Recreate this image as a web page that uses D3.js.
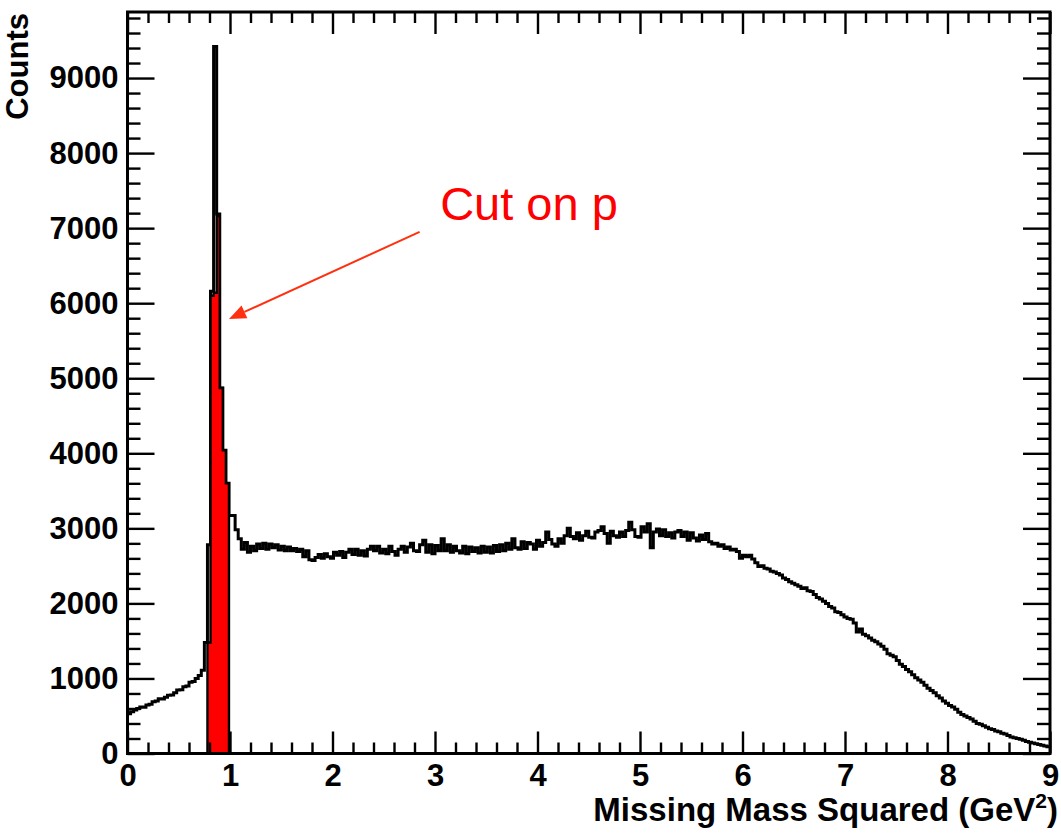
<!DOCTYPE html>
<html lang="en">
  <head>
    <meta charset="UTF-8" />
    <title>Missing Mass Squared</title>
    <style>
      html,
      body {
        margin: 0;
        background: #fff;
      }
      svg {
        display: block;
        font-family: "Liberation Sans", Arial, Helvetica, sans-serif;
      }
      .tick text {
        font-weight: bold;
        font-size: 31px;
        fill: #000;
      }
    </style>
  </head>
  <body>
    <div id="chart"></div>

    <script src="https://cdnjs.cloudflare.com/ajax/libs/d3/7.8.5/d3.min.js"></script>
    <script>
      // histogram: 300 bins of 0.03 GeV^2 from 0 to 9
      const xMin = 0;
      const binWidth = 0.03;
      const counts = [
        530, 555, 580, 600, 620, 615, 645, 655, 690, 700,
        730, 725, 750, 775, 780, 810, 845, 850, 890, 900,
        950, 960, 1000, 1040, 1110, 1480, 2780, 6160, 9420, 7190,
        4870, 4040, 3600, 3170, 3170, 2980, 2860, 2720, 2810, 2680,
        2760, 2700, 2790, 2730, 2800, 2720, 2790, 2740, 2780, 2710,
        2760, 2700, 2750, 2700, 2730, 2690, 2720, 2620, 2700, 2580,
        2570, 2610, 2650, 2600, 2660, 2620, 2600, 2680, 2640, 2690,
        2610, 2680, 2720, 2650, 2720, 2640, 2700, 2630, 2720, 2760,
        2700, 2760, 2670, 2720, 2660, 2760, 2690, 2640, 2720, 2760,
        2680, 2750, 2800, 2700, 2690, 2780, 2840, 2680, 2780, 2660,
        2770, 2700, 2860, 2700, 2780, 2680, 2760, 2700, 2670, 2760,
        2660, 2750, 2690, 2740, 2670, 2760, 2680, 2750, 2670, 2770,
        2690, 2780, 2700, 2800, 2720, 2860, 2740, 2720, 2820, 2730,
        2810, 2790, 2720, 2840, 2760, 2810, 2950, 2850, 2790, 2760,
        2860, 2800, 2900, 3000, 2890, 2860, 2940, 2840, 2900, 2960,
        2880, 2870, 2950, 2970, 3020, 2930, 2800, 2960, 2900, 2880,
        2950, 2890, 2970, 3080, 2980, 2890, 2880, 3020, 2950, 3060,
        2740, 2950, 2990, 2900, 2980, 2890, 2940, 2870, 2950, 2970,
        2890, 2950, 2840, 2940, 2870, 2830, 2910, 2850, 2930, 2820,
        2790, 2800, 2760, 2780, 2730, 2750, 2710, 2720, 2690, 2600,
        2640, 2620, 2640, 2590, 2540, 2490, 2500, 2470, 2460, 2430,
        2420, 2400, 2380, 2340, 2320, 2290, 2270, 2250, 2230, 2200,
        2210, 2170, 2160, 2120, 2080, 2060, 2030, 2000, 1960, 1940,
        1890, 1880, 1850, 1820, 1800, 1790, 1740, 1620, 1660, 1590,
        1570, 1540, 1510, 1490, 1460, 1430, 1390, 1330, 1310, 1290,
        1240, 1190, 1160, 1120, 1090, 1050, 1010, 980, 950, 910,
        870, 840, 810, 770, 740, 700, 670, 640, 620, 590,
        550, 520, 500, 480, 460, 430, 400, 390, 370, 350,
        330, 320, 300, 290, 270, 260, 240, 220, 210, 200,
        190, 175, 160, 150, 140, 130, 120, 110, 100, 90,
      ];

      // events passing the cut on p (red), first bin index and counts
      const cutFirstBin = 26;
      const cutCounts = [1480, 6100, 6140, 7160, 4870, 4040, 3600];

      const xTicks = [0, 1, 2, 3, 4, 5, 6, 7, 8, 9];
      const yTicks = [0, 1000, 2000, 3000, 4000, 5000, 6000, 7000, 8000, 9000];
      const xDomain = [0, 9];
      const yDomain = [0, 9880];

      // annotation, in data units
      const label = "Cut on p";
      const labelPos = [3.05, 7115];
      const arrowFrom = [2.85, 6950];
      const arrowTo = [0.99, 5790];

      const options = {
        width: 1061,
        height: 834,
        margin: { top: 12, right: 11, bottom: 80.5, left: 127.5 },
      };

      const w = options.width,
        h = options.height,
        iw = w - options.margin.left - options.margin.right,
        ih = h - options.margin.top - options.margin.bottom;

      const x = d3.scaleLinear().domain(xDomain).range([0, iw]);
      const y = d3.scaleLinear().domain(yDomain).range([ih, 0]);

      const svg = d3
        .select("#chart")
        .append("svg")
        .attr("width", w)
        .attr("height", h);

      const g = svg
        .append("g")
        .attr(
          "transform",
          `translate(${options.margin.left},${options.margin.top})`
        );

      // step outline of the full histogram
      const steps = [];
      counts.forEach((c, i) => {
        const lo = xMin + i * binWidth;
        steps.push([lo, c], [lo + binWidth, c]);
      });

      const line = d3
        .line()
        .x((d) => x(d[0]))
        .y((d) => y(d[1]));

      g.append("path")
        .datum(steps)
        .attr("fill", "none")
        .attr("stroke", "#000")
        .attr("stroke-width", 3)
        .attr("stroke-linejoin", "miter")
        .attr("d", line);

      // cut histogram, filled red
      const cutSteps = [[xMin + cutFirstBin * binWidth, 0]];
      cutCounts.forEach((c, i) => {
        const lo = xMin + (cutFirstBin + i) * binWidth;
        cutSteps.push([lo, c], [lo + binWidth, c]);
      });
      cutSteps.push([xMin + (cutFirstBin + cutCounts.length) * binWidth, 0]);

      g.append("path")
        .datum(cutSteps)
        .attr("fill", "#ff0000")
        .attr("stroke", "#000")
        .attr("stroke-width", 2.4)
        .attr("d", line);

      // axes: major + minor ticks on all four sides, pointing inward
      const xMinor = d3.range(0, 9.001, 0.2).filter((v) => Math.abs(v - Math.round(v)) > 1e-6);
      const yMinor = d3.range(0, 9881, 200).filter((v) => v % 1000 !== 0);

      const drawAxis = (axis, transform, labels) => {
        const a = g.append("g").attr("transform", transform).call(axis);
        a.select(".domain").remove();
        a.selectAll(".tick line").attr("stroke-width", 2.4);
        if (!labels) a.selectAll(".tick text").remove();
        return a;
      };

      drawAxis(d3.axisBottom(x).tickValues(xTicks).tickSize(-22).tickPadding(10).tickFormat(d3.format("d")), `translate(0,${ih})`, true);
      drawAxis(d3.axisBottom(x).tickValues(xMinor).tickSize(-11).tickFormat(""), `translate(0,${ih})`, false);
      drawAxis(d3.axisTop(x).tickValues(xTicks).tickSize(-22), "translate(0,0)", false);
      drawAxis(d3.axisTop(x).tickValues(xMinor).tickSize(-11), "translate(0,0)", false);

      drawAxis(d3.axisLeft(y).tickValues(yTicks).tickSize(-27).tickPadding(9).tickFormat(d3.format("d")), "translate(0,0)", true);
      drawAxis(d3.axisLeft(y).tickValues(yMinor).tickSize(-13).tickFormat(""), "translate(0,0)", false);
      drawAxis(d3.axisRight(y).tickValues(yTicks).tickSize(-27), `translate(${iw},0)`, false);
      drawAxis(d3.axisRight(y).tickValues(yMinor).tickSize(-13), `translate(${iw},0)`, false);

      // frame
      g.append("rect")
        .attr("x", 0)
        .attr("y", 0)
        .attr("width", iw)
        .attr("height", ih)
        .attr("fill", "none")
        .attr("stroke", "#000")
        .attr("stroke-width", 3);

      // axis titles
      const xTitle = svg
        .append("text")
        .attr("x", w - 3)
        .attr("y", 821)
        .attr("text-anchor", "end")
        .attr("font-weight", "bold")
        .attr("font-size", 33)
        .attr("fill", "#000");
      xTitle.append("tspan").text("Missing Mass Squared (GeV");
      xTitle.append("tspan").attr("font-size", 21).attr("dy", -13).text("2");
      xTitle.append("tspan").attr("dy", 13).text(")");

      svg
        .append("text")
        .attr("transform", "translate(28,13) rotate(-90)")
        .attr("text-anchor", "end")
        .attr("font-weight", "bold")
        .attr("font-size", 31)
        .attr("fill", "#000")
        .text("Counts");

      // annotation
      const arrowColor = "#ff3010";
      const x1 = x(arrowFrom[0]),
        y1 = y(arrowFrom[1]),
        x2 = x(arrowTo[0]),
        y2 = y(arrowTo[1]);
      const ang = Math.atan2(y2 - y1, x2 - x1);
      const headLen = 17,
        headHalf = 7;
      const bx = x2 - headLen * Math.cos(ang),
        by = y2 - headLen * Math.sin(ang);

      g.append("line")
        .attr("x1", x1)
        .attr("y1", y1)
        .attr("x2", bx)
        .attr("y2", by)
        .attr("stroke", arrowColor)
        .attr("stroke-width", 2);

      g.append("path")
        .attr(
          "d",
          `M${x2},${y2}L${bx + headHalf * Math.sin(ang)},${by - headHalf * Math.cos(ang)}L${bx - headHalf * Math.sin(ang)},${by + headHalf * Math.cos(ang)}Z`
        )
        .attr("fill", arrowColor);

      g.append("text")
        .attr("x", x(labelPos[0]))
        .attr("y", y(labelPos[1]))
        .attr("font-size", 47)
        .attr("fill", "#ff0000")
        .text(label);
    </script>
  </body>
</html>
